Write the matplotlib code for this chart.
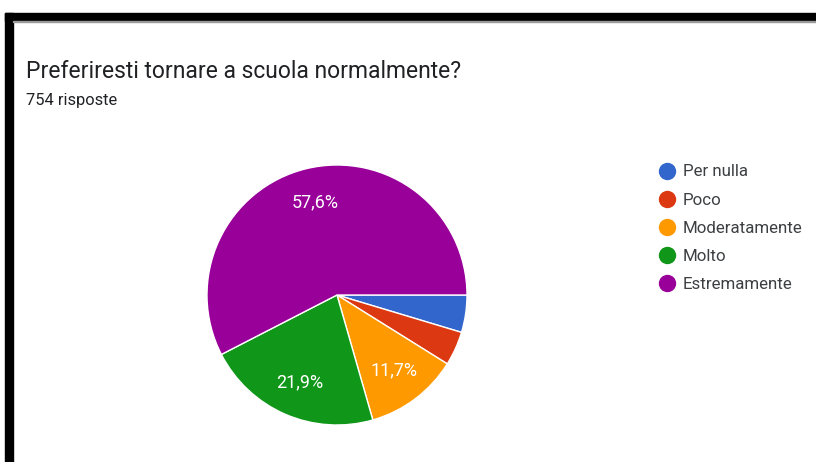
import matplotlib.pyplot as plt
from matplotlib.lines import Line2D
from matplotlib.patches import Rectangle

plt.rcParams['font.family'] = ['Roboto', 'DejaVu Sans']

title = "Preferiresti tornare a scuola normalmente?"
subtitle = "754 risposte"
labels = ["Per nulla", "Poco", "Moderatamente", "Molto", "Estremamente"]
counts = [35, 32, 88, 165, 434]
colors = ["#3366cc", "#dc3912", "#ff9900", "#109618", "#990099"]

W, H = 816, 462
fig = plt.figure(figsize=(W / 100, H / 100), dpi=100)

# black frame along top and left
fig.patches.append(Rectangle((5 / W, 0), 8 / W, (H - 13) / H, transform=fig.transFigure,
                             color="black", zorder=5))
fig.patches.append(Rectangle((5 / W, (H - 21) / H), (W - 5) / W, 8 / H, transform=fig.transFigure,
                             color="black", zorder=5))
fig.patches.append(Rectangle((13 / W, (H - 22) / H), (W - 13) / W, 1 / H, transform=fig.transFigure,
                             color="#9a9a9a", zorder=5))

fig.text(26 / W, 1 - 71 / H, title, fontsize=16.5, color="#202124", va="center", ha="left")
fig.text(26 / W, 1 - 101 / H, subtitle, fontsize=11.8, color="#202124", va="center", ha="left")

# pie centred at (337, 295) px with radius 130 px
cx, cy, r = 337, 295, 130
ax = fig.add_axes([(cx - r) / W, (H - cy - r) / H, 2 * r / W, 2 * r / H])
total = sum(counts)


def fmt(p):
    return f"{p:.1f}%".replace(".", ",") if p >= 10 else ""


wedges, _, autotexts = ax.pie(counts, colors=colors, startangle=0, counterclock=False,
                              autopct=fmt, pctdistance=0.73, radius=1,
                              wedgeprops=dict(edgecolor="white", linewidth=1))
for t in autotexts:
    t.set_color("white")
    t.set_fontsize(13)
ax.set_xlim(-1, 1)
ax.set_ylim(-1, 1)
ax.set_aspect("equal")
ax.axis("off")

handles = [Line2D([], [], marker="o", linestyle="", markersize=11.5, markerfacecolor=c,
                  markeredgecolor=c) for c in colors]
fig.legend(handles, labels, loc="upper left", bbox_to_anchor=(650 / W, 1 - 156 / H),
           frameon=False, fontsize=12.2, labelcolor="#3c4043", handletextpad=0.43,
           labelspacing=0.77, borderpad=0, handlelength=1.0)

fig.savefig("out.png", dpi=100, facecolor="white")
